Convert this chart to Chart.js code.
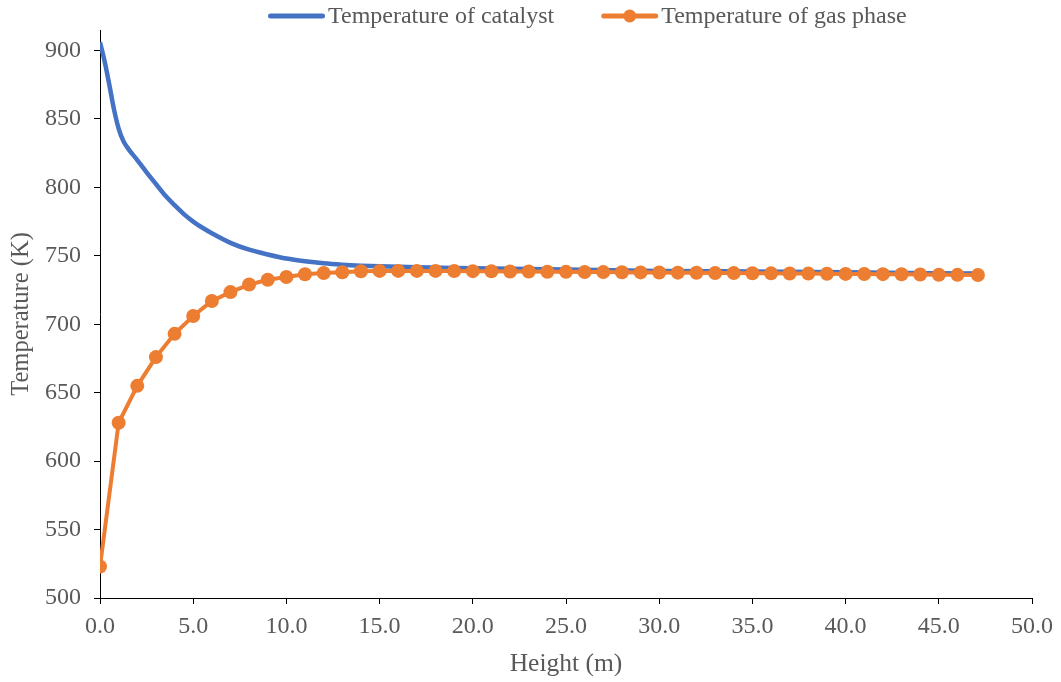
<!DOCTYPE html>
<html>
<head>
<meta charset="utf-8">
<title>Temperature profile</title>
<script src="https://cdn.jsdelivr.net/npm/chart.js@4.4.1/dist/chart.umd.min.js"></script>
<style>
  html, body { margin: 0; padding: 0; background: #fff; }
  #wrap { width: 1061px; height: 682px; }
</style>
</head>
<body>
<div id="wrap"><canvas id="myChart" width="1061" height="682"></canvas></div>
<script>
// values

const catalystHeight = [0, 0.25, 0.5, 0.75, 1.0, 1.25, 1.5, 2, 2.5, 3, 3.5, 4, 4.5, 5, 5.5, 6, 7, 8, 9, 10,
                        11, 12, 13, 14, 15, 17, 20, 25, 30, 35, 40, 47.1];
const catalystTemp   = [906, 892, 875, 857, 843, 834, 828.5, 820, 811, 802.5, 794, 787, 780.5, 775, 770.5, 766.5, 759.5, 754.5, 751, 748,
                        746, 744.5, 743.5, 742.8, 742.3, 741.6, 741, 740, 739, 738.5, 738, 737];

const gasHeight = [0, 1, 2, 3, 4, 5, 6, 7, 8, 9, 10, 11, 12, 13, 14, 15, 16, 17, 18, 19, 20, 21, 22, 23, 24,
                   25, 26, 27, 28, 29, 30, 31, 32, 33, 34, 35, 36, 37, 38, 39, 40, 41, 42, 43, 44, 45, 46, 47.1];
const gasTemp   = [523, 628, 655, 676, 693, 706, 717, 723.5, 729, 732.5, 734.5, 736.5, 737.5, 738, 738.7, 739, 739, 739,
                   739, 738.9, 738.8, 738.7, 738.6, 738.5, 738.4, 738.3, 738.2, 738.1, 738, 737.9, 737.8, 737.7, 737.6,
                   737.5, 737.4, 737.3, 737.2, 737.1, 737, 736.9, 736.8, 736.7, 736.6, 736.5, 736.4, 736.2, 736.1, 736];

const yTicks = [500, 550, 600, 650, 700, 750, 800, 850, 900];
const seriesNames = ['Temperature of catalyst', 'Temperature of gas phase'];

const BLUE = '#4472C4';
const ORANGE = '#ED7D31';
const TEXT = '#595959';
const FONT = "'Liberation Serif', 'Times New Roman', serif";

// legend drawn by hand so it looks like the office one (line + marker)
const lineLegend = {
    id: 'lineLegend',
    afterDraw(chart) {
        const ctx = chart.ctx;
        const y = 16;
        let x = 268;
        const sample = 57;
        ctx.save();
        ctx.font = '24px ' + FONT;
        ctx.textBaseline = 'middle';
        [BLUE, ORANGE].forEach((col, i) => {
            ctx.strokeStyle = col;
            ctx.lineWidth = 5;
            ctx.lineCap = 'round';
            ctx.beginPath();
            ctx.moveTo(x + 2.5, y);
            ctx.lineTo(x + sample - 2.5, y);
            ctx.stroke();
            if (i === 1) {
                ctx.fillStyle = col;
                ctx.beginPath();
                ctx.arc(x + sample / 2, y, 6.5, 0, Math.PI * 2);
                ctx.fill();
            }
            ctx.fillStyle = TEXT;
            ctx.fillText(seriesNames[i], x + sample + 3, y + 1);
            x += sample + 3 + ctx.measureText(seriesNames[i]).width + 47;
        });
        ctx.restore();
    }
};

const ctx = document.getElementById('myChart');

const myChart = new Chart(ctx, {
    type: 'line',
    data: {
        datasets: [{
            label: seriesNames[0],
            data: catalystHeight.map((h, i) => ({x: h, y: catalystTemp[i]})),
            borderColor: BLUE,
            backgroundColor: BLUE,
            borderWidth: 4.5,
            pointRadius: 0,
            cubicInterpolationMode: 'monotone',
            order: 2
        },
        {
            label: seriesNames[1],
            data: gasHeight.map((h, i) => ({x: h, y: gasTemp[i]})),
            borderColor: ORANGE,
            backgroundColor: ORANGE,
            borderWidth: 4,
            pointRadius: 7,
            pointBorderWidth: 0,
            pointBackgroundColor: ORANGE,
            order: 1
        }]
    },
    options: {
        responsive: false,
        animation: false,
        layout: { padding: { left: 0, right: 27, top: 30, bottom: 0 } },
        scales: {
            x: {
                type: 'linear',
                min: 0,
                max: 50,
                border: { color: '#000', width: 1 },
                grid: { drawOnChartArea: false, drawTicks: true, tickLength: 6, color: '#000' },
                ticks: {
                    stepSize: 5,
                    padding: 8,
                    color: TEXT,
                    font: { family: FONT, size: 24 },
                    maxRotation: 0,
                    callback: v => v.toFixed(1)
                },
                title: {
                    display: true,
                    text: 'Height (m)',
                    color: TEXT,
                    font: { family: FONT, size: 25.5 },
                    padding: { top: 0, bottom: 2 }
                },
                afterFit: s => { s.height = 84; }
            },
            y: {
                min: 500,
                max: 915,
                border: { color: '#000', width: 1 },
                grid: { drawOnChartArea: false, drawTicks: true, tickLength: 6, color: '#000' },
                afterBuildTicks: s => { s.ticks = yTicks.map(v => ({value: v})); },
                ticks: {
                    padding: 13,
                    color: TEXT,
                    font: { family: FONT, size: 24 }
                },
                title: {
                    display: true,
                    text: 'Temperature (K)',
                    color: TEXT,
                    font: { family: FONT, size: 24.5 },
                    padding: { top: 7, bottom: 0 }
                },
                afterFit: s => { s.width = 100; }
            }
        },
        plugins: {
            legend: { display: false },
            tooltip: { enabled: false }
        }
    },
    plugins: [lineLegend]
});
</script>
</body>
</html>
